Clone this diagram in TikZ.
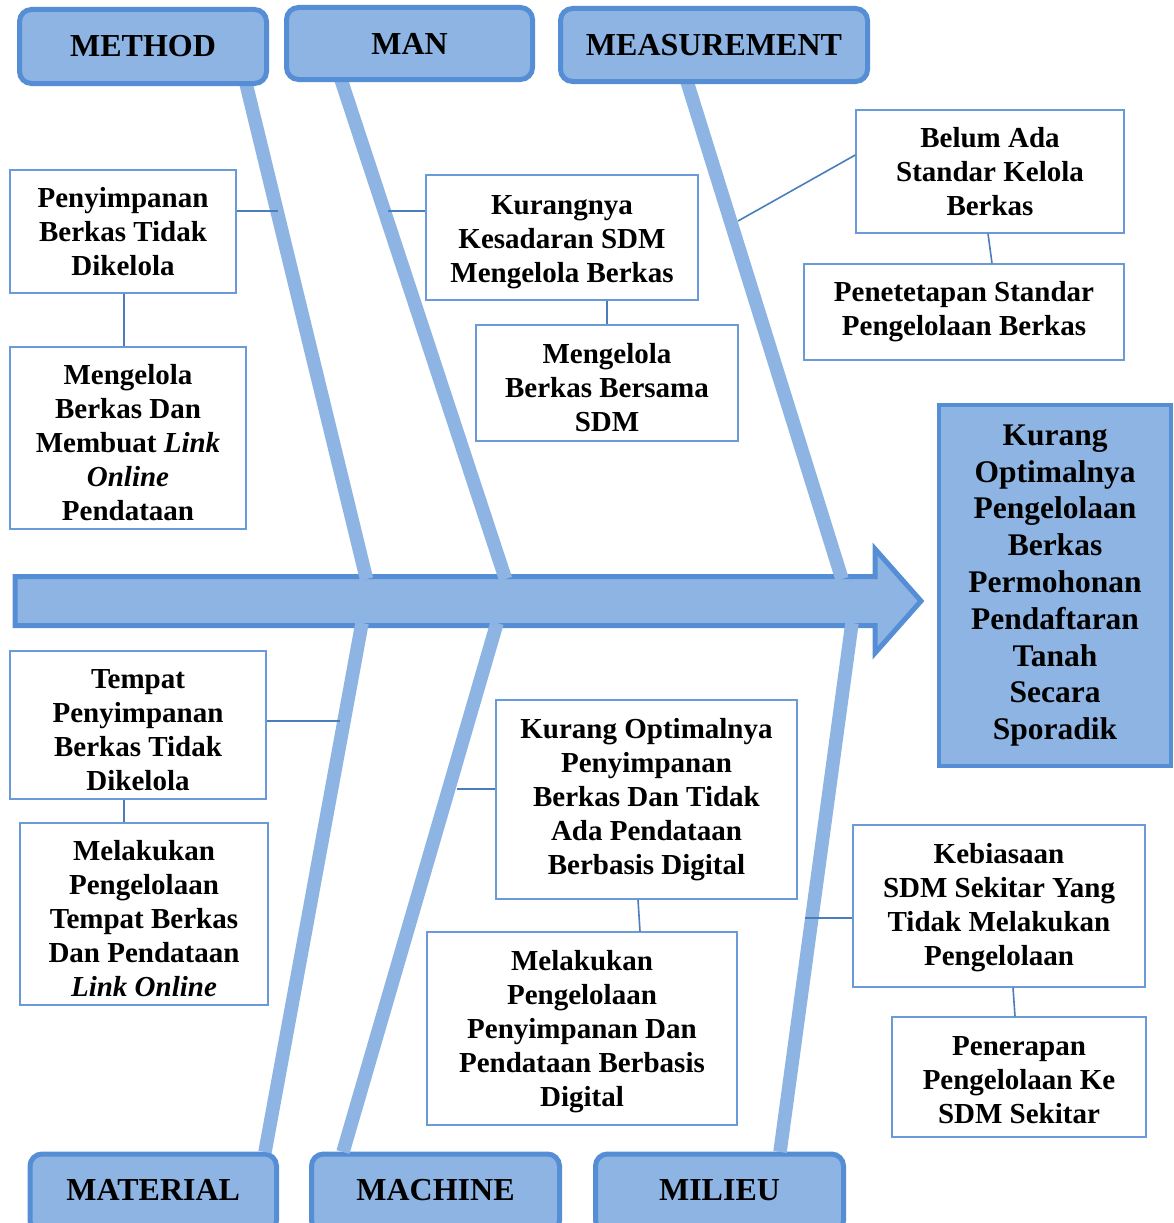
\documentclass[tikz,border=0pt]{standalone}
\usepackage{fontspec}
\setmainfont{Liberation Serif}
\definecolor{boneblue}{HTML}{8EB4E3}
\definecolor{edgeblue}{HTML}{558ED5}
\definecolor{boxedge}{HTML}{6A9BD8}
\definecolor{linkblue}{HTML}{4A7EBB}
\newcommand\dnstrut[1]{\rule{0pt}{\dimexpr 19.6pt+#1pt+#1pt\relax}}
\tikzset{
  catbox/.style={draw=edgeblue, fill=boneblue, line width=5pt, rounded corners=12pt,
    inner sep=0pt, font=\fontsize{32}{38}\selectfont\bfseries},
  txtbox/.style={draw=boxedge, fill=white, line width=1.4pt, align=center, inner sep=0pt,
    font=\fontsize{29}{34}\selectfont\bfseries},
  effbox/.style={draw=edgeblue, fill=boneblue, line width=4pt, align=center, inner sep=0pt,
    font=\fontsize{31.5}{36.8}\selectfont\bfseries},
  bone/.style={draw=boneblue, line width=13.5pt},
  link/.style={draw=linkblue, line width=1.6pt},
  spine/.style={draw=edgeblue, fill=boneblue, line width=5pt, miter limit=10}
}
\begin{document}
\begin{tikzpicture}[x=1pt,y=-1pt]
\path[use as bounding box] (0,0) rectangle (1174,1223);
\clip (0,0) rectangle (1174,1223);
\fill[white] (0,0) rectangle (1174,1223);

% spine arrow
\draw[spine] (15,576.5) -- (875,576.5) -- (875,549) -- (921,601) -- (875,653) -- (875,625.5) -- (15,625.5) -- cycle;

% bottom category boxes
\node[catbox, minimum width=246.5, minimum height=78.5, anchor=north] (material) at (153.25,1151.5) {\raisebox{6pt}{MATERIAL}};
\node[catbox, minimum width=248, minimum height=78.5, anchor=north] (machine) at (435.5,1151.5) {\raisebox{6pt}{MACHINE}};
\node[catbox, minimum width=248, minimum height=78.5, anchor=north] (milieu) at (719.5,1151.5) {\raisebox{6pt}{MILIEU}};

% bone end points
\coordinate (mth1) at (246,83.5);  \coordinate (mth2) at (366.5,579);
\coordinate (man1) at (341,79.5);  \coordinate (man2) at (505.5,579);
\coordinate (mea1) at (687,81.5);  \coordinate (mea2) at (842,579);
\coordinate (mat1) at (362,623);   \coordinate (mat2) at (265,1152);
\coordinate (mac1) at (497,623);   \coordinate (mac2) at (343,1152);
\coordinate (mil1) at (852,623);   \coordinate (mil2) at (780,1152);

\draw[bone] (mth1) -- (mth2);
\draw[bone] (man1) -- (man2);
\draw[bone] (mea1) -- (mea2);
\draw[bone] (mat1) -- (mat2);
\draw[bone] (mac1) -- (mac2);
\draw[bone] (mil1) -- (mil2);

% top category boxes
\node[catbox, minimum width=247, minimum height=74] (method) at (143,46.5) {METHOD};
\node[catbox, minimum width=246, minimum height=72] (man) at (409.5,43.5) {MAN};
\node[catbox, minimum width=307, minimum height=73] (measure) at (714,45) {MEASUREMENT};

% cause / solution boxes
\node[txtbox, minimum width=226, minimum height=123] (t1) at (123,231.5) {Penyimpanan\\Berkas Tidak\\Dikelola};
\node[txtbox, minimum width=236, minimum height=182] (t2) at (128,438) {\dnstrut{5}Mengelola\\Berkas Dan\\Membuat \textit{Link}\\\textit{Online}\\Pendataan};
\node[txtbox, minimum width=272, minimum height=125] (t3) at (562,237.5) {\dnstrut{4}Kurangnya\\Kesadaran SDM\\Mengelola Berkas};
\node[txtbox, minimum width=262, minimum height=116] (t4) at (607,383) {\dnstrut{5}Mengelola\\Berkas Bersama\\SDM};
\node[txtbox, minimum width=268, minimum height=123] (t5) at (990,171.5) {Belum Ada\\Standar Kelola\\Berkas};
\node[txtbox, minimum width=320, minimum height=96] (t6) at (964,312) {Penetetapan Standar\\Pengelolaan Berkas};
\node[txtbox, minimum width=256, minimum height=148] (t8) at (138,725) {\dnstrut{5}Tempat\\Penyimpanan\\Berkas Tidak\\Dikelola};
\node[txtbox, minimum width=248, minimum height=182] (t9) at (144,914) {\dnstrut{5}Melakukan\\Pengelolaan\\Tempat Berkas\\Dan Pendataan\\\textit{Link Online}};
\node[txtbox, minimum width=301, minimum height=199] (t10) at (646.5,799.5) {Kurang Optimalnya\\Penyimpanan\\Berkas Dan Tidak\\Ada Pendataan\\Berbasis Digital};
\node[txtbox, minimum width=310, minimum height=193] (t11) at (582,1028.5) {\dnstrut{3}Melakukan\\Pengelolaan\\Penyimpanan Dan\\Pendataan Berbasis\\Digital};
\node[txtbox, minimum width=292, minimum height=162] (t12) at (999,906) {\dnstrut{2}Kebiasaan\\SDM Sekitar Yang\\Tidak Melakukan\\Pengelolaan};
\node[txtbox, minimum width=254, minimum height=120] (t13) at (1019,1077) {\dnstrut{3}Penerapan\\Pengelolaan Ke\\SDM Sekitar};

% effect box
\node[effbox, minimum width=232, minimum height=361] (effect) at (1055,585.5) {Kurang\\Optimalnya\\Pengelolaan\\Berkas\\Permohonan\\Pendaftaran\\Tanah\\Secara\\Sporadik};

% connectors
\coordinate (j1) at (278,211);
\coordinate (v1) at (124,0);
\coordinate (j3) at (388,211);
\coordinate (j5) at (738,221);
\coordinate (j8) at (340,721);
\coordinate (j10) at (457,789);
\coordinate (j12) at (805,918);

\draw[link] (t1.east |- j1) -- (j1);
\draw[link] (t1.south -| v1) -- (t2.north -| v1);
\draw[link] (j3) -- (t3.west |- j3);
\draw[link] (t3.south -| t4.north) -- (t4.north);
\draw[link] ([yshift=16.5pt]t5.west) -- (j5);
\draw[link] ([xshift=-2pt]t5.south) -- ([xshift=2pt]t5.south |- t6.north);
\draw[link] (t8.east |- j8) -- (j8);
\draw[link] (t8.south -| v1) -- (t9.north -| v1);
\draw[link] (j10) -- (t10.west |- j10);
\draw[link] ([xshift=-8.5pt]t10.south) -- ([xshift=-6.5pt]t10.south |- t11.north);
\draw[link] (j12) -- (t12.west |- j12);
\draw[link] ([xshift=14pt]t12.south) -- ([xshift=16pt]t12.south |- t13.north);
\end{tikzpicture}
\end{document}
